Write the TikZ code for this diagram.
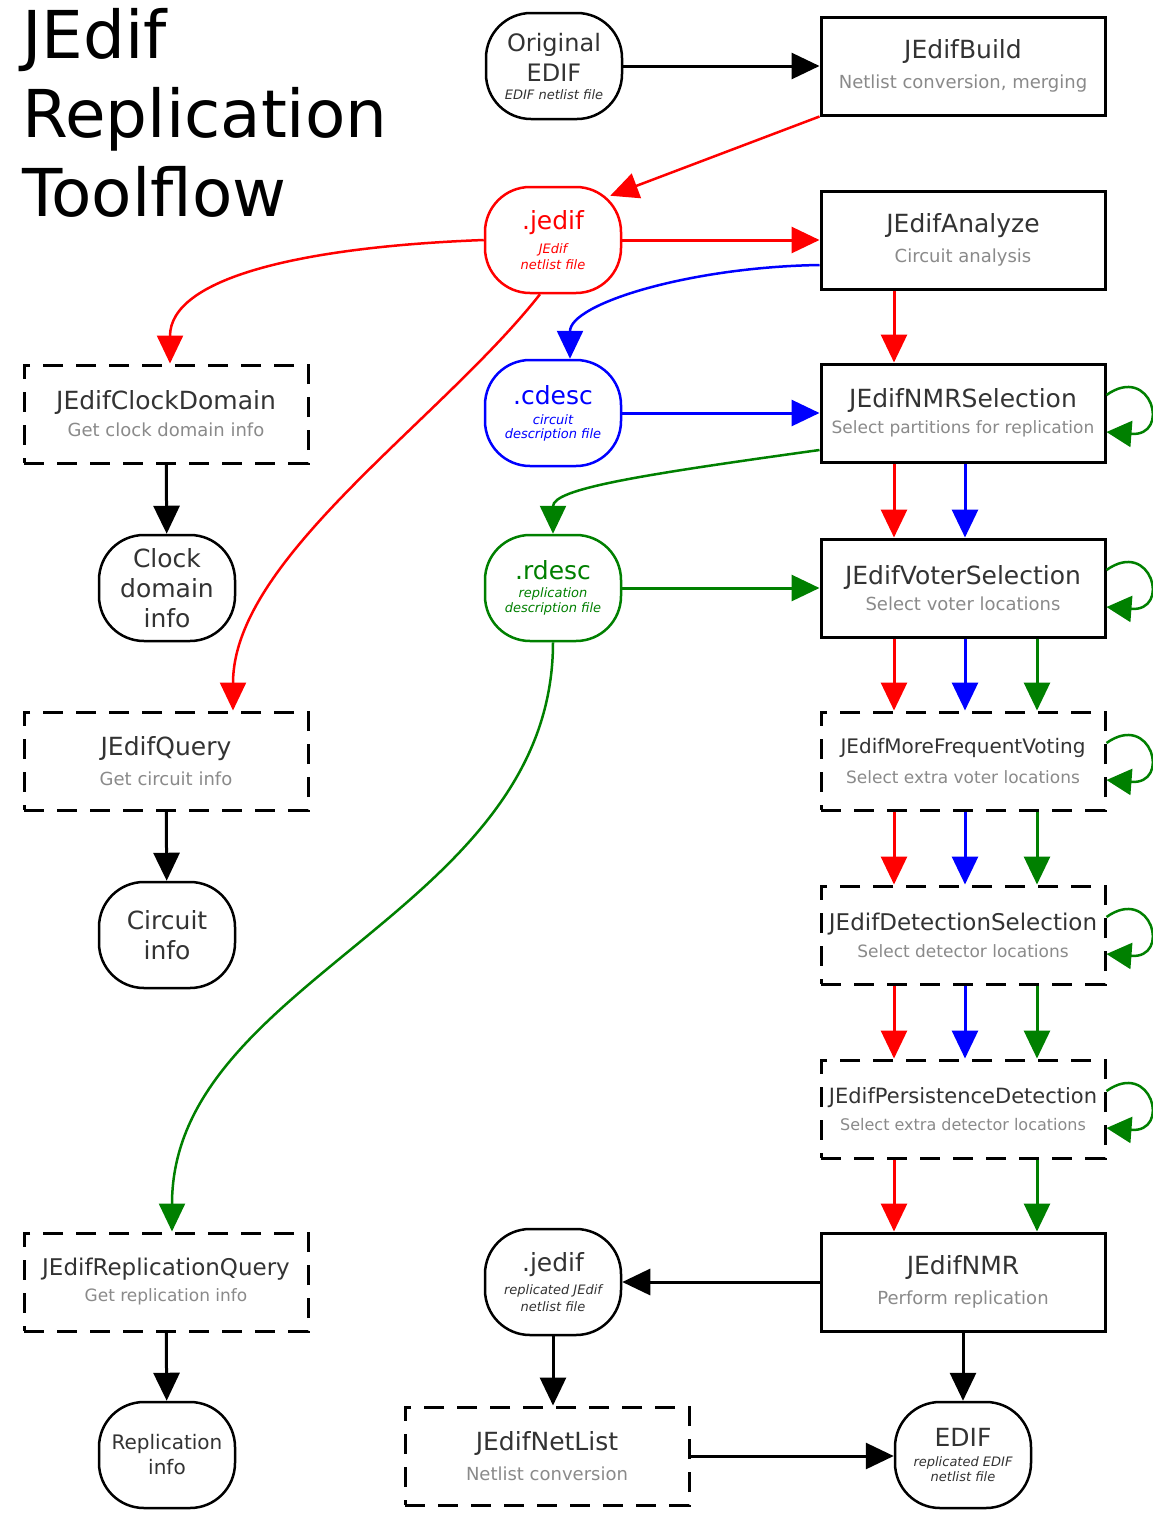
\documentclass[tikz,border=0pt]{standalone}
\usepackage{fontspec}
\setmainfont{DejaVu Sans}
\usetikzlibrary{arrows.meta}
\definecolor{mred}{RGB}{255,0,0}
\definecolor{mblue}{RGB}{0,0,255}
\definecolor{mgreen}{RGB}{0,128,0}
\definecolor{tmain}{RGB}{51,51,51}
\definecolor{tsub}{RGB}{138,138,138}
\newcommand\subt[2][17]{{\color{tsub}\fontsize{#1}{#1}\selectfont #2}}
\newcommand\smit[1]{{\itshape\fontsize{13}{13}\selectfont #1}}
\newcommand\ttl[2][25]{{\fontsize{#1}{#1}\selectfont #2}}
\begin{document}
\begin{tikzpicture}[x=1pt,y=-1pt,
 proc/.style={draw=black,line width=3pt,minimum width=284pt,minimum height=98pt,inner sep=0pt,align=center,text=tmain,font=\fontsize{25}{30}\selectfont},
 dproc/.style={proc,dash pattern=on 20pt off 13pt},
 filebox/.style={draw=black,line width=2.5pt,rounded corners=45pt,minimum width=136pt,minimum height=106pt,inner sep=0pt,align=center,text=tmain,font=\fontsize{25}{30}\selectfont},
 arr/.style={line width=3pt,-{Triangle[length=28pt,width=26pt]}},
 carr/.style={line width=2.5pt,-{Triangle[length=28pt,width=26pt]}},
 selfloop/.style={mgreen,line width=2.5pt,-{Triangle[length=25pt,width=26pt]}},
]
\useasboundingbox (0,0) rectangle (1153,1513);
\fill[white] (0,0) rectangle (1153,1513);

% title
\node[font=\fontsize{66}{79}\selectfont,anchor=north west,inner sep=0pt,align=left,text=black] (title) at (22,8) {JEdif\\Replication\\Toolflow};

% right column
\node[proc] (build) at (963,66) {JEdifBuild\\\subt[18]{Netlist conversion, merging}};
\node[proc] (analyze) at (963,240) {JEdifAnalyze\\\subt[18]{Circuit analysis}};
\node[proc] (nmrsel) at (963,413) {JEdifNMRSelection\\[-4pt]\subt{Select partitions for replication}};
\node[proc] (voter) at (963,588) {JEdifVoterSelection\\[-4pt]\subt[18]{Select voter locations}};
\node[dproc] (morefreq) at (963,761) {\ttl[20]{JEdifMoreFrequentVoting}\\\subt[17]{Select extra voter locations}};
\node[dproc] (detect) at (963,935) {\ttl[23]{JEdifDetectionSelection}\\[-3pt]\subt[17]{Select detector locations}};
\node[dproc] (persist) at (963,1109) {\ttl[21]{JEdifPersistenceDetection}\\[-3pt]\subt[16]{Select extra detector locations}};
\node[proc] (nmr) at (963,1282) {JEdifNMR\\\subt[18]{Perform replication}};

% middle column
\node[filebox,font=\fontsize{24}{30}\selectfont] (orig) at (554,66) {Original\\EDIF\\[-12pt]\smit{EDIF netlist file}};
\node[filebox,draw=mred,text=mred] (jedif1) at (553,240) {.jedif\\[-6pt]\smit{JEdif}\\[-14pt]\smit{netlist file}};
\node[filebox,draw=mblue,text=mblue] (cdesc) at (553,413) {.cdesc\\[-10pt]\smit{circuit}\\[-16pt]\smit{description file}};
\node[filebox,draw=mgreen,text=mgreen] (rdesc) at (553,588) {.rdesc\\[-12pt]\smit{replication}\\[-15pt]\smit{description file}};
\node[filebox] (jedif2) at (553,1282) {.jedif\\[-7pt]\smit{replicated JEdif}\\[-13pt]\smit{netlist file}};
\node[dproc] (netlist) at (547,1456) {JEdifNetList\\\subt[18]{Netlist conversion}};
\node[filebox] (edif) at (963,1455) {EDIF\\[-10pt]\smit{replicated EDIF}\\[-15pt]\smit{netlist file}};

% left column
\node[dproc] (clock) at (166,414) {JEdifClockDomain\\[-3pt]\subt[18]{Get clock domain info}};
\node[filebox] (clockinfo) at (167,588) {Clock\\domain\\info};
\node[dproc] (query) at (166,761) {JEdifQuery\\\subt[18]{Get circuit info}};
\node[filebox] (circinfo) at (167,935) {Circuit\\info};
\node[dproc] (rquery) at (166,1282) {\ttl[23]{JEdifReplicationQuery}\\[-4pt]\subt[17]{Get replication info}};
\node[filebox,font=\fontsize{20}{25}\selectfont] (repinfo) at (167,1455) {Replication\\info};

% black connectors
\draw[arr] (orig.east) -- (build.west);
\draw[arr] (clock) -- (clockinfo);
\draw[arr] (query) -- (circinfo);
\draw[arr] (rquery) -- (repinfo);
\draw[arr] (nmr.west) -- (jedif2.east);
\draw[arr] (jedif2.south) -- (jedif2.south |- netlist.north);
\draw[arr] (nmr) -- (edif);
\draw[arr] (netlist.east) -- (netlist.east -| edif.west);

% red connectors
\draw[carr,mred] (build.south west) -- ([xshift=-12pt,yshift=-10pt]jedif1.north east);
\draw[arr,mred] (jedif1.east) -- (analyze.west);
\draw[carr,mred] (jedif1.west) .. controls +(-185,7) and +(0,-85) .. ([xshift=4pt]clock.north);
\draw[carr,mred] ([xshift=-13pt]jedif1.south) .. controls +(-100,127) and +(0,-152) .. ([xshift=67pt]query.north);

% blue connectors
\draw[carr,mblue] ([yshift=-25pt]analyze.west) .. controls +(-130,2) and +(0,-55) .. ([xshift=17pt]cdesc.north);
\draw[arr,mblue] (cdesc.east) -- (nmrsel.west);

% green connectors
\draw[carr,mgreen] ([yshift=-37pt]nmrsel.west) .. controls +(-180,25) and +(0,-45) .. (rdesc.north);
\draw[arr,mgreen] (rdesc.east) -- (voter.west);
\draw[carr,mgreen] (rdesc.south) .. controls +(0,270) and +(0,-253) .. ([xshift=6pt]rquery.north);

% parallel flows down the right column
\draw[arr,mred] ([xshift=-69pt]analyze.south) -- ([xshift=-69pt]nmrsel.north);
\foreach \a/\b in {nmrsel/voter,voter/morefreq,morefreq/detect,detect/persist,persist/nmr}{
  \draw[arr,mred] ([xshift=-69pt]\a.south) -- ([xshift=-69pt]\b.north);
}
\foreach \a/\b in {nmrsel/voter,voter/morefreq,morefreq/detect,detect/persist}{
  \draw[arr,mblue] ([xshift=2pt]\a.south) -- ([xshift=2pt]\b.north);
}
\foreach \a/\b in {voter/morefreq,morefreq/detect,detect/persist,persist/nmr}{
  \draw[arr,mgreen] ([xshift=74pt]\a.south) -- ([xshift=74pt]\b.north);
}

% self loops
\foreach \n in {nmrsel,voter,morefreq,detect,persist}{
  \draw[selfloop] ([yshift=18pt]\n.east) .. controls +(45,-32) and +(65,5) .. ([yshift=-19pt]\n.east);
}
\end{tikzpicture}
\end{document}
